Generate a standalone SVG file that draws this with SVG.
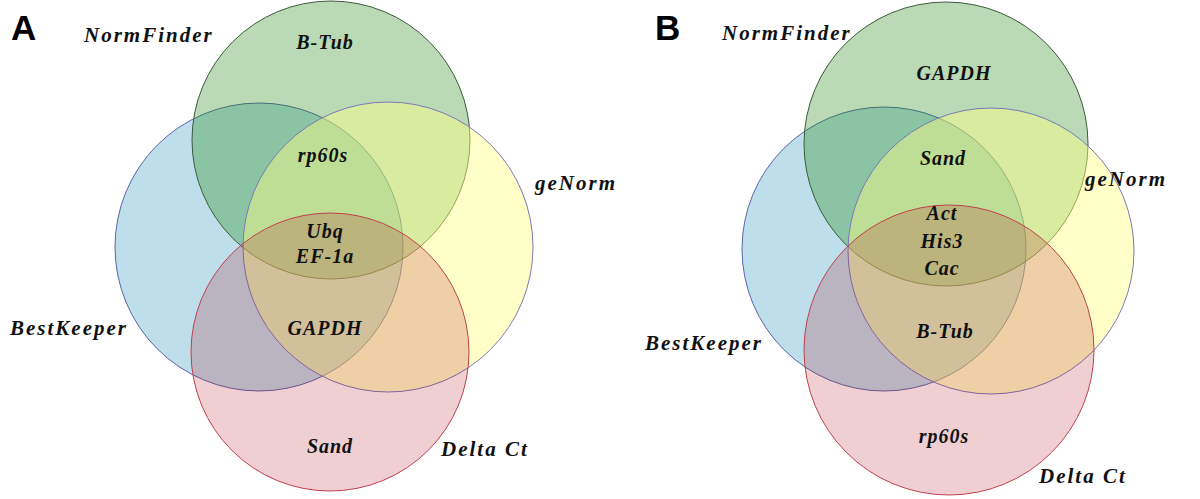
<svg xmlns="http://www.w3.org/2000/svg" width="1200" height="499" viewBox="0 0 1200 499">
<style>
.t{font-family:"Liberation Serif","Times New Roman",serif;font-weight:bold;font-style:italic;fill:#111}
.set{font-size:21px;letter-spacing:2px}
.reg{font-size:20px;letter-spacing:1px;text-anchor:middle}
.pl{font-family:"Liberation Sans",Arial,sans-serif;font-weight:bold;font-size:35px;fill:#000}
.blue{fill:#2691b9;fill-opacity:.3;stroke:#5a66a8;stroke-width:1}
.green{fill:#1d870d;fill-opacity:.31;stroke:#3c5a3c;stroke-width:1}
.yellow{fill:#ffff82;fill-opacity:.45;stroke:#7a7ab8;stroke-width:1}
.red{fill:#b01020;fill-opacity:.2;stroke:#c0404e;stroke-width:1}
</style>
<rect width="1200" height="499" fill="#fff"/>
<g id="panelA">
<text class="pl" x="11" y="40">A</text>
<g id="A-BestKeeper"><circle class="blue" cx="259" cy="247" r="144"/><text class="t set" x="10" y="335">BestKeeper</text></g>
<g id="A-NormFinder"><circle class="green" cx="331" cy="140" r="139"/><text class="t set" x="84" y="42">NormFinder</text></g>
<g id="A-geNorm"><circle class="yellow" cx="388" cy="247" r="145"/><text class="t set" x="535" y="190">geNorm</text></g>
<g id="A-DeltaCt"><circle class="red" cx="330" cy="352" r="139"/><text class="t set" x="441" y="456">Delta Ct</text></g>
<g id="A-regions">
<text class="t reg" x="325" y="49">B-Tub</text>
<text class="t reg" x="323" y="162">rp60s</text>
<text class="t reg" x="325" y="238">Ubq</text>
<text class="t reg" x="325" y="263">EF-1a</text>
<text class="t reg" x="325" y="335">GAPDH</text>
<text class="t reg" x="330" y="453">Sand</text>
</g>
</g>
<g id="panelB">
<text class="pl" x="655" y="40">B</text>
<g id="B-BestKeeper"><circle class="blue" cx="884" cy="249" r="142"/><text class="t set" x="645" y="350">BestKeeper</text></g>
<g id="B-NormFinder"><circle class="green" cx="946" cy="144" r="142"/><text class="t set" x="722" y="40">NormFinder</text></g>
<g id="B-geNorm"><circle class="yellow" cx="991" cy="251" r="143"/><text class="t set" x="1085" y="186">geNorm</text></g>
<g id="B-DeltaCt"><circle class="red" cx="949" cy="350" r="145"/><text class="t set" x="1039" y="483">Delta Ct</text></g>
<g id="B-regions">
<text class="t reg" x="954" y="80">GAPDH</text>
<text class="t reg" x="943" y="165">Sand</text>
<text class="t reg" x="942" y="220">Act</text>
<text class="t reg" x="942" y="248">His3</text>
<text class="t reg" x="942" y="275">Cac</text>
<text class="t reg" x="945" y="338">B-Tub</text>
<text class="t reg" x="944" y="443">rp60s</text>
</g>
</g>
<g id="connectors"/>
</svg>
